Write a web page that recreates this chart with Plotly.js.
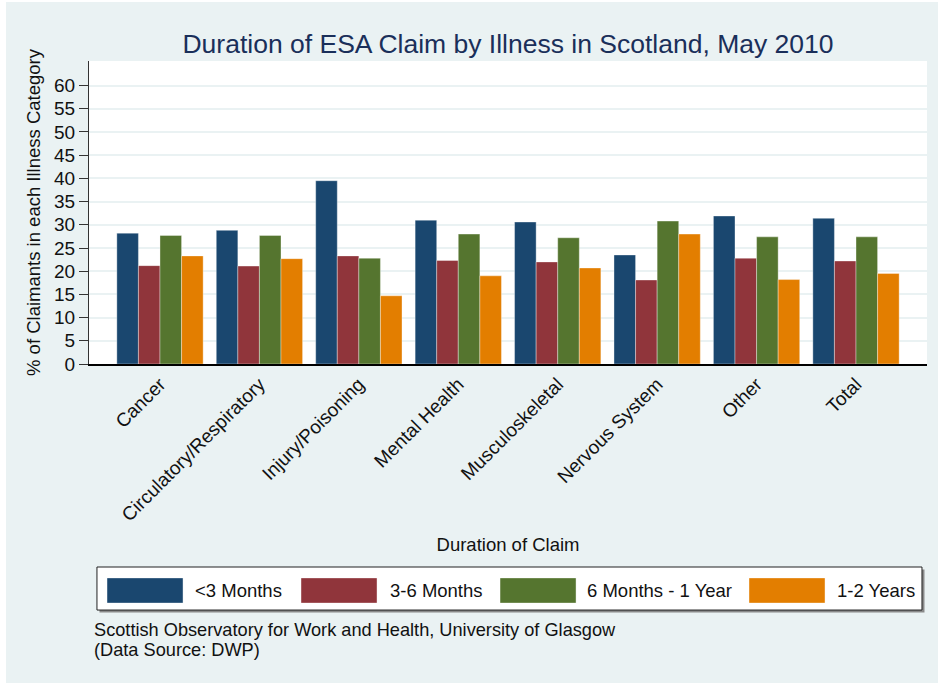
<!DOCTYPE html>
<html>
<head>
<meta charset="utf-8">
<script src="https://cdn.plot.ly/plotly-3.0.1.min.js"></script>
<style>
  html, body { margin: 0; padding: 0; background: #ffffff; }
  #chart { position: absolute; left: 6px; top: 2px; width: 932px; height: 681px; }
</style>
</head>
<body>
<div id="chart"></div>
<script>
// ---- data ----
const categories = ["Cancer", "Circulatory/Respiratory", "Injury/Poisoning", "Mental Health",
                    "Musculoskeletal", "Nervous System", "Other", "Total"];
const seriesNames = ["<3 Months", "3-6 Months", "6 Months - 1 Year", "1-2 Years"];
const lessThan3Months = [28.2, 28.8, 39.5, 31.0, 30.6, 23.5, 31.9, 31.4];
const months3to6      = [21.2, 21.1, 23.3, 22.3, 22.0, 18.1, 22.8, 22.2];
const months6to12     = [27.7, 27.7, 22.8, 28.0, 27.2, 30.8, 27.4, 27.4];
const years1to2       = [23.3, 22.7, 14.7, 19.0, 20.7, 28.0, 18.2, 19.5];
const yTicks = [0, 5, 10, 15, 20, 25, 30, 35, 40, 45, 50, 55, 60];
const noteLines = ["Scottish Observatory for Work and Health, University of Glasgow", "(Data Source: DWP)"];

// ---- styles ----
const colors = ["#1a476f", "#90353b", "#55752f", "#e37e00"];
const seriesValues = [lessThan3Months, months3to6, months6to12, years1to2];
const FONT = "Liberation Sans, Arial, Helvetica, sans-serif";
const TXT = "#111111";

const traces = seriesValues.map((vals, i) => ({
  type: "bar",
  name: seriesNames[i],
  x: categories,
  y: vals,
  marker: { color: colors[i], line: { color: "rgba(255,255,255,0.45)", width: 0.8 } },
  hoverinfo: "x+y+name"
}));

// custom legend (wide swatches like the original)
const legendBox = { x0: 0.0095, x1: 0.994, y0: -0.812, y1: -0.670 };
const swatchX = [0.0215, 0.2530, 0.4905, 0.7876]; // paper fractions
const swatchW = 0.0907;
const swatchY = [-0.789, -0.706];
const labelX = [0.1241, 0.3568, 0.5919, 0.8902];
const noteY = [-0.8795, -0.9455];

const shapes = [
  { type: "rect", xref: "paper", yref: "paper", x0: legendBox.x0 + 0.003, x1: legendBox.x1 + 0.003,
    y0: legendBox.y0 - 0.008, y1: legendBox.y1 - 0.008, fillcolor: "#8a8a8a", line: { width: 0 }, layer: "below" },
  { type: "rect", xref: "paper", yref: "paper", x0: legendBox.x0, x1: legendBox.x1,
    y0: legendBox.y0, y1: legendBox.y1, fillcolor: "#ffffff", line: { color: "#222222", width: 1 } }
];
const annotations = [];
seriesNames.forEach((name, i) => {
  shapes.push({ type: "rect", xref: "paper", yref: "paper", x0: swatchX[i], x1: swatchX[i] + swatchW,
    y0: swatchY[0], y1: swatchY[1], fillcolor: colors[i], line: { color: "rgba(255,255,255,0.5)", width: 0.8 } });
  annotations.push({ xref: "paper", yref: "paper", x: labelX[i], y: (swatchY[0] + swatchY[1]) / 2,
    xanchor: "left", yanchor: "middle", text: name, showarrow: false,
    font: { family: FONT, size: 18.5, color: TXT } });
});
noteLines.forEach((line, i) => {
  annotations.push({
    xref: "paper", yref: "paper", x: 0.0048, y: noteY[i], xanchor: "left", yanchor: "middle", align: "left",
    text: line, showarrow: false, borderpad: 0, font: { family: FONT, size: 18.2, color: TXT }
  });
});

const layout = {
  width: 932, height: 681,
  paper_bgcolor: "#eaf2f3",
  plot_bgcolor: "#ffffff",
  font: { family: FONT, size: 18.5, color: TXT },
  title: { text: "Duration of ESA Claim by Illness in Scotland, May 2010",
           font: { family: FONT, size: 26.5, color: "#1a2f5a" },
           x: 0.5, xref: "paper", y: 0.938, yanchor: "middle" },
  margin: { l: 83, r: 11, t: 59, b: 319 },
  barmode: "group",
  bargap: 0.132,
  bargroupgap: 0,
  showlegend: false,
  xaxis: {
    type: "category",
    range: [-0.714, 7.714],
    tickangle: -45,
    ticks: "",
    showgrid: false,
    showline: true, linecolor: "#000000", linewidth: 1.5,
    tickfont: { family: FONT, size: 19, color: TXT },
    title: { text: "Duration of Claim", standoff: 14, font: { family: FONT, size: 18.5, color: TXT } },
    automargin: false,
    fixedrange: true
  },
  yaxis: {
    range: [0, 65.3],
    tickvals: yTicks,
    ticktext: yTicks.map(String),
    ticks: "outside", ticklen: 9, tickcolor: "#333333", tickwidth: 1,
    showgrid: true, gridcolor: "#eaf2f3", gridwidth: 1.5,
    zeroline: false,
    showline: true, linecolor: "#333333", linewidth: 1,
    tickfont: { family: FONT, size: 19, color: TXT },
    title: { text: "% of Claimants in each Illness Category", standoff: 8,
             font: { family: FONT, size: 18.5, color: TXT } },
    automargin: false,
    fixedrange: true
  },
  shapes: shapes,
  annotations: annotations
};

Plotly.newPlot("chart", traces, layout, { displayModeBar: false });
</script>
</body>
</html>
